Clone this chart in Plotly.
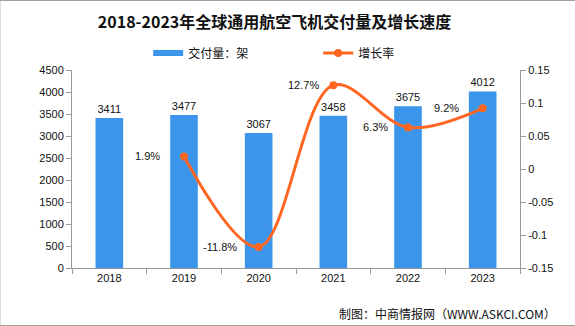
import plotly.graph_objects as go

years = ["2018", "2019", "2020", "2021", "2022", "2023"]
deliveries = [3411, 3477, 3067, 3458, 3675, 4012]
growth_years = ["2019", "2020", "2021", "2022", "2023"]
growth = [0.019, -0.118, 0.127, 0.063, 0.092]
growth_labels = ["1.9%", "-11.8%", "12.7%", "6.3%", "9.2%"]
left_ticks = [0, 500, 1000, 1500, 2000, 2500, 3000, 3500, 4000, 4500]
right_ticks = [-0.15, -0.1, -0.05, 0, 0.05, 0.1, 0.15]
right_tick_text = ["-0.15", "-0.1", "-0.05", "0", "0.05", "0.1", "0.15"]

num_font = "Liberation Sans"
cjk_font = "Noto Sans CJK SC"
bar_color = "#3B96EB"

fig = go.Figure()
fig.add_trace(go.Bar(
    x=years, y=deliveries, name="交付量：架", showlegend=False, legendgroup="bar",
    marker=dict(color=bar_color, line=dict(width=0)),
    width=0.37,
    text=[str(v) for v in deliveries], textposition="outside",
    textfont=dict(family=num_font, size=11, color="#111"),
    cliponaxis=False,
))
# legend-only entry giving the bar series a wide flat swatch, as in the reference
fig.add_trace(go.Scatter(
    x=[None], y=[None], name="交付量：架", legendgroup="bar", mode="lines",
    line=dict(color=bar_color, width=6),
))
fig.add_trace(go.Scatter(
    x=growth_years, y=growth, name="增长率", yaxis="y2",
    mode="lines+markers",
    line=dict(color="#FF6621", width=3, shape="spline", smoothing=1.0),
    marker=dict(size=8, color="#FF6621"),
))

xshifts = [-22, -20, -12, -18, -22]
for gx, gy, gl, xs in zip(growth_years, growth, growth_labels, xshifts):
    fig.add_annotation(x=years.index(gx), y=gy, xref="x", yref="y2", text=gl,
                       showarrow=False, xanchor="right", yanchor="middle",
                       xshift=xs, font=dict(family=num_font, size=11, color="#111"))

fig.add_annotation(text="制图：中商情报网（WWW.ASKCI.COM）", xref="paper", yref="paper",
                   x=(447 - 72) / 447, y=-(313 - 268) / 198, showarrow=False,
                   xanchor="center", yanchor="middle",
                   font=dict(family=cjk_font, size=12, color="#111"))

fig.add_shape(type="rect", xref="paper", yref="paper",
              x0=-72 / 447, x1=(574.5 - 72) / 447,
              y0=-(325.5 - 268) / 198, y1=(268 - 0.5) / 198,
              line=dict(color="#A0A0A0", width=1))

fig.update_layout(
    width=575, height=326,
    margin=dict(l=72, r=55, t=70, b=58),
    paper_bgcolor="white", plot_bgcolor="white",
    title=dict(text="<b>2018-2023年全球通用航空飞机交付量及增长速度</b>",
               x=260 / 575, xanchor="center", xref="paper", y=1 - 22 / 326, yanchor="middle",
               font=dict(family=cjk_font, size=16, color="#111")),
    legend=dict(orientation="h", x=(148 - 72) / 447, xanchor="left",
                y=1 + (70 - 53) / 198, yanchor="middle",
                font=dict(family=cjk_font, size=12, color="#111"),
                itemwidth=30, entrywidth=125),
    xaxis=dict(type="category", showline=True, linecolor="#999", linewidth=1,
               ticks="outside", tickson="boundaries", ticklen=5, tickcolor="#999",
               tickfont=dict(family=num_font, size=11, color="#111"),
               showgrid=False, tickangle=0),
    yaxis=dict(range=[0, 4500], tickvals=left_ticks, showline=True, linecolor="#999",
               ticks="outside", ticklen=5, tickcolor="#999", showgrid=False, zeroline=False,
               tickfont=dict(family=num_font, size=11, color="#111")),
    yaxis2=dict(range=[-0.15, 0.15], tickvals=right_ticks, ticktext=right_tick_text,
                overlaying="y", side="right", showline=True, linecolor="#999",
                ticks="outside", ticklen=5, tickcolor="#999", showgrid=False, zeroline=False,
                tickfont=dict(family=num_font, size=11, color="#111")),
    showlegend=True,
)

fig.write_html("out.html")
